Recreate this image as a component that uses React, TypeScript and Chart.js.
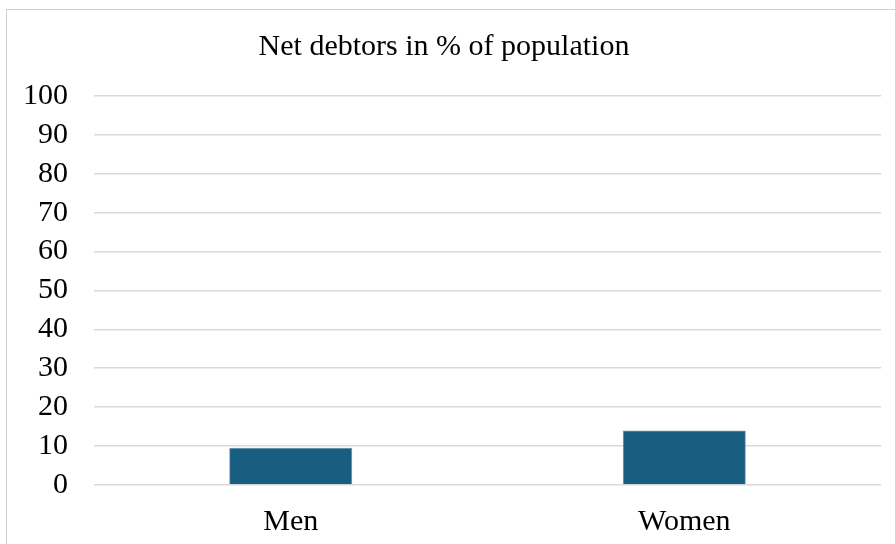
import React, { useEffect, useRef } from "react";
import { Chart, registerables } from "chart.js";

Chart.register(...registerables);

const categories = ["Men", "Women"];
const netDebtorsPct = [9.6, 14.0];
const yTicks = [0, 10, 20, 30, 40, 50, 60, 70, 80, 90, 100];
const chartTitle = "Net debtors in % of population";

const FONT = "'Liberation Serif', 'Times New Roman', serif";

export default function App() {
  const canvasRef = useRef<HTMLCanvasElement | null>(null);

  useEffect(() => {
    document.body.style.margin = "0";
    const canvas = canvasRef.current;
    if (!canvas) return;
    const chart = new Chart(canvas, {
      type: "bar",
      data: {
        labels: categories,
        datasets: [
          {
            data: netDebtorsPct,
            backgroundColor: "#175e80",
            borderColor: "#5f8fa8",
            borderWidth: 0.8,
            barPercentage: 0.3125,
            categoryPercentage: 1,
          },
        ],
      },
      options: {
        animation: false,
        responsive: false,
        maintainAspectRatio: false,
        layout: { padding: { left: 0, right: 14, top: 0, bottom: 0 } },
        plugins: {
          legend: { display: false },
          tooltip: { enabled: false },
          title: {
            display: true,
            text: chartTitle,
            color: "#000",
            font: { family: FONT, size: 30, weight: "normal" },
            padding: { top: 19, bottom: 31 },
          },
        },
        scales: {
          x: {
            afterFit: (scale: any) => {
              scale.height = 59;
            },
            grid: { display: false, drawTicks: false },
            border: { display: false },
            ticks: {
              color: "#000",
              font: { family: FONT, size: 30 },
              padding: 19,
            },
          },
          y: {
            min: 0,
            max: 100,
            afterBuildTicks: (scale: any) => {
              scale.ticks = yTicks.map((v) => ({ value: v }));
            },
            afterFit: (scale: any) => {
              scale.width = 87;
            },
            grid: { color: "#dadada", lineWidth: 1.6, drawTicks: false },
            border: { display: false },
            ticks: {
              autoSkip: false,
              color: "#000",
              font: { family: FONT, size: 30 },
              padding: 26,
            },
          },
        },
      },
    });
    return () => chart.destroy();
  }, []);

  return (
    <div
      style={{
        position: "fixed",
        left: 6,
        top: 9,
        width: 900,
        height: 545,
        border: "1px solid #cfcfcf",
        background: "#fff",
      }}
    >
      <canvas ref={canvasRef} width={888} height={534} style={{ display: "block" }} />
    </div>
  );
}
